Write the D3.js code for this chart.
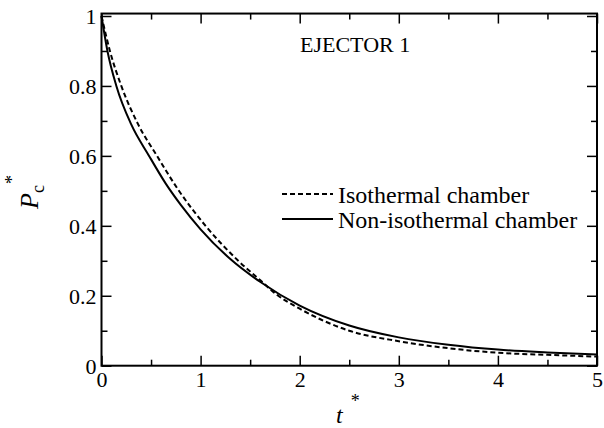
<!DOCTYPE html>
<html>
<head>
<meta charset="utf-8">
<script src="https://cdn.jsdelivr.net/npm/d3@7"></script>
<style>
  body { margin: 0; background: #fff; }
  .axis path { display: none; }
  .axis line { stroke: #000; stroke-width: 1.5; }
</style>
</head>
<body>
<div id="chart"></div>
<script>
// data
var tIso = [0, 0.085, 0.2, 0.37, 0.56, 0.77, 1.05, 1.38, 1.6, 1.76, 2.0, 2.5, 3.0, 3.5, 4.0, 4.5, 5.0];
var pIso = [1, 0.9, 0.8, 0.69, 0.6, 0.505, 0.4, 0.3, 0.245, 0.205, 0.163, 0.1, 0.07, 0.05, 0.037, 0.031, 0.026];

var tNon = [0, 0.06, 0.15, 0.3, 0.48, 0.65, 0.8, 1.0, 1.3, 1.6, 2.0, 2.5, 3.0, 3.5, 4.0, 4.5, 5.0];
var pNon = [1, 0.9, 0.8, 0.69, 0.6, 0.52, 0.46, 0.39, 0.305, 0.24, 0.172, 0.115, 0.081, 0.06, 0.046, 0.038, 0.032];

var xTicks = [0, 1, 2, 3, 4, 5];
var xMinor = [0.5, 1.5, 2.5, 3.5, 4.5];
var yTicks = [0, 0.2, 0.4, 0.6, 0.8, 1];
var yMinor = [0.1, 0.3, 0.5, 0.7, 0.9];

var seriesNames = ["Isothermal chamber", "Non-isothermal chamber"];

// pick an installed serif face (Times-like first)
function pickSerif() {
  var ctx = document.createElement("canvas").getContext("2d");
  var sample = "Non-isothermal chamber 0.8 EJECTOR";
  var names = ["Liberation Serif", "Times New Roman", "Tinos", "Noto Serif", "DejaVu Serif", "FreeSerif"];
  var bases = ["monospace", "sans-serif"];
  for (var i = 0; i < names.length; i++) {
    for (var j = 0; j < bases.length; j++) {
      ctx.font = "24px " + bases[j];
      var w0 = ctx.measureText(sample).width;
      ctx.font = "24px \"" + names[i] + "\", " + bases[j];
      if (Math.abs(ctx.measureText(sample).width - w0) > 0.5) return "\"" + names[i] + "\", serif";
    }
  }
  return "serif";
}
var serif = pickSerif();

var svgWidth = 604;
var svgHeight = 428;

var svg = d3.select("#chart")
  .append("svg")
  .attr("width", svgWidth)
  .attr("height", svgHeight)
  .style("font-family", serif);

var x = d3.scaleLinear().domain([0, 5]).range([101.5, 597]);
var y = d3.scaleLinear().domain([0, 1]).range([365.7, 16]);
var yTop = y(1.007);

function fmt(d) { return d === 0 ? "0" : d3.format("~g")(d); }

// ticks, all pointing in
var xAxisG = svg.append("g").attr("class", "axis")
  .attr("transform", "translate(0," + y(0) + ")")
  .call(d3.axisBottom(x).tickValues(xTicks).tickSizeInner(-10).tickSizeOuter(0).tickPadding(6).tickFormat(fmt));
svg.append("g").attr("class", "axis")
  .attr("transform", "translate(0," + y(0) + ")")
  .call(d3.axisBottom(x).tickValues(xMinor).tickSizeInner(-6).tickSizeOuter(0).tickFormat(""));
svg.append("g").attr("class", "axis")
  .attr("transform", "translate(0," + yTop + ")")
  .call(d3.axisTop(x).tickValues(xTicks).tickSizeInner(-10).tickSizeOuter(0).tickFormat(""));
svg.append("g").attr("class", "axis")
  .attr("transform", "translate(0," + yTop + ")")
  .call(d3.axisTop(x).tickValues(xMinor).tickSizeInner(-6).tickSizeOuter(0).tickFormat(""));

var yAxisG = svg.append("g").attr("class", "axis")
  .attr("transform", "translate(" + x(0) + ",0)")
  .call(d3.axisLeft(y).tickValues(yTicks).tickSizeInner(-10).tickSizeOuter(0).tickPadding(5).tickFormat(fmt));
svg.append("g").attr("class", "axis")
  .attr("transform", "translate(" + x(0) + ",0)")
  .call(d3.axisLeft(y).tickValues(yMinor).tickSizeInner(-6).tickSizeOuter(0).tickFormat(""));
svg.append("g").attr("class", "axis")
  .attr("transform", "translate(" + x(5) + ",0)")
  .call(d3.axisRight(y).tickValues(yTicks).tickSizeInner(-10).tickSizeOuter(0).tickFormat(""));
svg.append("g").attr("class", "axis")
  .attr("transform", "translate(" + x(5) + ",0)")
  .call(d3.axisRight(y).tickValues(yMinor).tickSizeInner(-6).tickSizeOuter(0).tickFormat(""));

svg.selectAll(".axis").attr("font-family", null).attr("font-size", 22);
xAxisG.selectAll("text").attr("dy", "0.71em");
yAxisG.selectAll("text").attr("dy", "0.34em");

// frame
svg.append("rect")
  .attr("x", x(0))
  .attr("y", yTop)
  .attr("width", x(5) - x(0))
  .attr("height", y(0) - yTop)
  .attr("fill", "none")
  .attr("stroke", "#000")
  .attr("stroke-width", 2);

// curves
var line = d3.line()
  .x(d => x(d[0]))
  .y(d => y(d[1]))
  .curve(d3.curveMonotoneX);

svg.append("path")
  .datum(tIso.map((t, i) => [t, pIso[i]]))
  .attr("d", line)
  .attr("fill", "none")
  .attr("stroke", "#000")
  .attr("stroke-width", 2)
  .attr("stroke-dasharray", "5,3");

svg.append("path")
  .datum(tNon.map((t, i) => [t, pNon[i]]))
  .attr("d", line)
  .attr("fill", "none")
  .attr("stroke", "#000")
  .attr("stroke-width", 2);

// legend
var legend = svg.append("g");
legend.selectAll("line").data(seriesNames).enter()
  .append("line")
  .attr("x1", 282).attr("x2", 333)
  .attr("y1", (d, i) => 194 + i * 25)
  .attr("y2", (d, i) => 194 + i * 25)
  .attr("stroke", "#000")
  .attr("stroke-width", 2)
  .attr("stroke-dasharray", (d, i) => i === 0 ? "5,3" : null);
legend.selectAll("text").data(seriesNames).enter()
  .append("text")
  .attr("x", 338)
  .attr("y", (d, i) => 203 + i * 25)
  .attr("font-size", "24px")
  .text(d => d);

// label inside the plot
svg.append("text")
  .attr("x", 300)
  .attr("y", 52)
  .attr("font-size", "22px")
  .text("EJECTOR 1");

// axis labels
var xl = svg.append("text")
  .attr("x", 336)
  .attr("y", 423)
  .attr("font-size", "24px");
xl.append("tspan").attr("font-style", "italic").text("t");
xl.append("tspan").attr("dx", 8).attr("dy", -16).attr("font-size", "18px").text("*");

var yl = svg.append("text")
  .attr("transform", "translate(38,209) rotate(-90)")
  .attr("font-size", "26px");
yl.append("tspan").attr("font-style", "italic").text("P");
yl.append("tspan").attr("dy", 6).attr("font-size", "18px").text("c");
yl.append("tspan").attr("dx", 1).attr("dy", -26).attr("font-size", "18px").text("*");
</script>
</body>
</html>
